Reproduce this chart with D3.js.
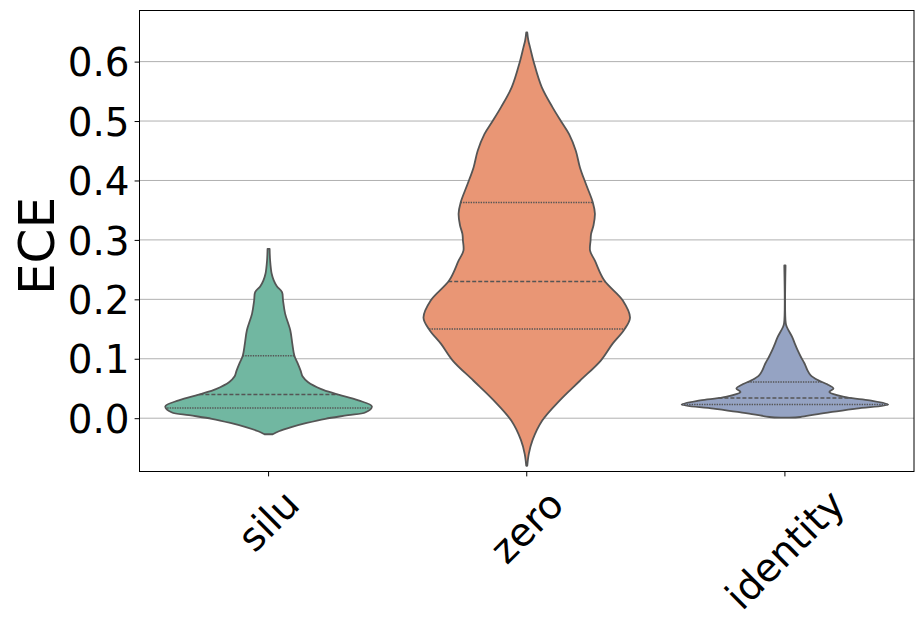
<!DOCTYPE html>
<html>
<head>
<meta charset="utf-8">
<script src="https://cdn.jsdelivr.net/npm/d3@7"></script>
<style>
  html, body { margin: 0; padding: 0; background: #fff; }
  svg { display: block; }
  text { font-family: "DejaVu Sans", sans-serif; fill: #000; }
</style>
</head>
<body>
<svg id="chart" width="924" height="623"></svg>
<script>
// ---------------- data ----------------
const categories = ["silu", "zero", "identity"];
const colors = ["#71b7a1", "#e99675", "#95a3c3"];
const yTicks = [0.0, 0.1, 0.2, 0.3, 0.4, 0.5, 0.6];

// KDE profiles: value on the ECE axis and relative density (1 = widest)
const siluValues   = [-0.027,-0.022,-0.015,-0.008,-0.001,0.005,0.010,0.020,0.030,0.041,0.049,0.061,0.070,0.080,0.093,0.105,0.125,0.148,0.176,0.198,0.212,0.222,0.232,0.243,0.265,0.285];
const siluDensity  = [0.04,0.10,0.22,0.37,0.55,0.77,0.94,1.00,0.87,0.65,0.51,0.38,0.33,0.31,0.28,0.25,0.23,0.21,0.16,0.14,0.13,0.08,0.05,0.03,0.015,0.01];

const zeroValues   = [-0.080,-0.060,-0.037,-0.004,0.030,0.063,0.097,0.125,0.148,0.169,0.198,0.232,0.265,0.282,0.299,0.310,0.325,0.344,0.363,0.394,0.422,0.450,0.478,0.498,0.523,0.557,0.599,0.624,0.636,0.649];
const zeroDensity  = [0.005,0.02,0.056,0.15,0.32,0.515,0.717,0.83,0.94,1.00,0.93,0.75,0.66,0.613,0.618,0.623,0.647,0.66,0.64,0.573,0.515,0.475,0.41,0.338,0.25,0.145,0.068,0.032,0.015,0.005];

const identityValues  = [0.001,0.002,0.007,0.016,0.023,0.030,0.035,0.044,0.050,0.057,0.064,0.072,0.080,0.092,0.103,0.114,0.125,0.136,0.153,0.160,0.257];
const identityDensity = [0.04,0.15,0.32,0.69,1.00,0.82,0.60,0.43,0.47,0.41,0.32,0.25,0.22,0.19,0.155,0.124,0.097,0.072,0.02,0.008,0.006];

// quartiles [Q1, median, Q3]
const siluQuartiles     = [0.017, 0.040, 0.105];
const zeroQuartiles     = [0.150, 0.230, 0.363];
const identityQuartiles = [0.023, 0.034, 0.061];

const violins = [
  { cat: "silu", values: siluValues, density: siluDensity, q: siluQuartiles },
  { cat: "zero", values: zeroValues, density: zeroDensity, q: zeroQuartiles },
  { cat: "identity", values: identityValues, density: identityDensity, q: identityQuartiles }
];

// ---------------- layout ----------------
const svg = d3.select("#chart");
const L = 139.5, R = 914, T = 10.5, B = 471.5;

const x = d3.scaleBand().domain(categories).range([L, R]).padding(0);
const y = d3.scaleLinear().domain([-0.0897, 0.686]).range([B, T]);
const w = d3.scaleLinear().domain([0, 1]).range([0, x.bandwidth() * 0.4]);
const color = d3.scaleOrdinal().domain(categories).range(colors);

// grid
svg.append("g").selectAll("line").data(yTicks).join("line")
  .attr("x1", L).attr("x2", R)
  .attr("y1", d => y(d)).attr("y2", d => y(d))
  .attr("stroke", "#b0b0b0").attr("stroke-width", 1);

// violins
const outline = "#555555";
violins.forEach(v => {
  const cx = x(v.cat) + x.bandwidth() / 2;
  const pts = v.values.map((val, i) => ({ v: val, d: v.density[i] }));
  const area = d3.area()
    .y(d => y(d.v))
    .x0(d => cx - w(d.d))
    .x1(d => cx + w(d.d))
    .curve(d3.curveCatmullRom.alpha(0.5));
  svg.append("path")
    .attr("d", area(pts) )
    .attr("fill", color(v.cat))
    .attr("stroke", outline)
    .attr("stroke-width", 1.8)
    .attr("stroke-linejoin", "round");

  const dens = d3.scaleLinear().domain(v.values).range(v.density);
  v.q.forEach((qv, i) => {
    const hw = w(dens(qv));
    svg.append("line")
      .attr("x1", cx - hw).attr("x2", cx + hw)
      .attr("y1", y(qv)).attr("y2", y(qv))
      .attr("stroke", outline)
      .attr("stroke-width", 1.5)
      .attr("stroke-dasharray", i === 1 ? "4,2" : "1.4,1.1");
  });
});

// frame
svg.append("rect")
  .attr("x", L).attr("y", T).attr("width", R - L).attr("height", B - T)
  .attr("fill", "none").attr("stroke", "#000").attr("stroke-width", 1);

// y axis
const yAxis = svg.append("g").attr("transform", `translate(${L},0)`)
  .call(d3.axisLeft(y).tickValues(yTicks).tickFormat(d3.format(".1f")).tickSize(4.9).tickPadding(5));
yAxis.select(".domain").remove();
yAxis.selectAll(".tick line").attr("stroke", "#000").attr("stroke-width", 1);
yAxis.selectAll(".tick text")
  .attr("font-size", "38.9px")
  .attr("font-family", "DejaVu Sans")
  .attr("dy", "0.365em")
  .attr("fill", "#000");

// x axis
const xAxis = svg.append("g").attr("transform", `translate(0,${B})`)
  .call(d3.axisBottom(x).tickSize(4.9).tickFormat(""));
xAxis.select(".domain").remove();
xAxis.selectAll(".tick line").attr("stroke", "#000").attr("stroke-width", 1);

const fs = 38.9;
categories.forEach(c => {
  const cx = x(c) + x.bandwidth() / 2;
  const t = svg.append("text")
    .attr("font-size", fs + "px")
    .attr("text-anchor", "middle")
    .attr("dominant-baseline", "central")
    .text(c);
  const tw = t.node().getComputedTextLength();
  const h = fs * 1.16;
  const top = B + 9.8;
  const cy = top + (tw + h) * Math.SQRT1_2 / 2;
  t.attr("transform", `translate(${cx},${cy}) rotate(-45)`);
});

// y label
svg.append("text")
  .attr("transform", "translate(53.5,246) rotate(-90)")
  .attr("text-anchor", "middle")
  .attr("font-size", "50px")
  .text("ECE");
</script>
</body>
</html>
